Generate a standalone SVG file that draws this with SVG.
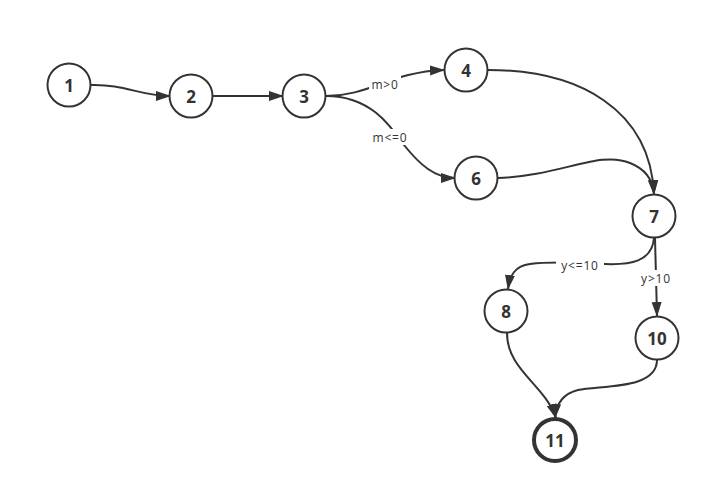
<svg xmlns="http://www.w3.org/2000/svg" width="711" height="494" viewBox="0 0 711 494">
<style>
.node circle{fill:#fff;stroke:#333;stroke-width:2}
.node text{font-family:"Open Sans","Liberation Sans",sans-serif;font-weight:bold;font-size:17px;fill:#333;text-anchor:middle;dominant-baseline:central}
.edge{fill:none;stroke:#333;stroke-width:2;marker-end:url(#arr)}
.lbl{font-family:"Open Sans","Liberation Sans",sans-serif;font-size:12px;letter-spacing:0.8px;fill:#333;text-anchor:middle;dominant-baseline:central}
.lblbg{fill:#fff}
</style>
<defs>
<marker id="arr" markerUnits="userSpaceOnUse" markerWidth="16" markerHeight="12" refX="14" refY="6" orient="auto" viewBox="0 0 16 12">
<path d="M0,1 L15,6 L0,11 Z" fill="#333"/>
</marker>
</defs>
<rect width="711" height="494" fill="#fff"/>
<g id="connectors">
<path class="edge" d="M91,85 C125,84 140,96 170,96"/>
<path class="edge" d="M213,96 L283,96"/>
<path class="edge" d="M326,96 C370,96 390,72 444,70"/>
<path class="edge" d="M326,96 C370,96 390,125 404,145 C420,165 435,178 455,178"/>
<path class="edge" d="M488,70 C580,70 650,110 654,194"/>
<path class="edge" d="M498,178 C560,176 600,150 630,163 C648,170 653,182 654,194"/>
<path class="edge" d="M654,238 C652,262 630,265 605,264 C570,262 545,262 530,264 C515,266 510,275 508,289"/>
<path class="edge" d="M655,238 L657,316"/>
<path class="edge" d="M507,333 C507,370 545,385 556,418"/>
<path class="edge" d="M657,360 C657,390 600,385 578,390 C562,394 556,405 555,418"/>
<rect class="lblbg" x="369" y="76" width="32" height="16"/>
<text class="lbl" x="385" y="84">m&gt;0</text>
<rect class="lblbg" x="368" y="129" width="44" height="16"/>
<text class="lbl" x="390" y="137">m&lt;=0</text>
<rect class="lblbg" x="556" y="257" width="48" height="16"/>
<text class="lbl" x="580" y="265">y&lt;=10</text>
<rect class="lblbg" x="637" y="270" width="40" height="16"/>
<text class="lbl" x="656" y="278">y&gt;10</text>
</g>
<g id="n1" class="node"><circle cx="69" cy="85" r="21.5"/><text x="69" y="85">1</text></g>
<g id="n2" class="node"><circle cx="191" cy="96" r="21.5"/><text x="191" y="96">2</text></g>
<g id="n3" class="node"><circle cx="304" cy="96" r="21.5"/><text x="304" y="96">3</text></g>
<g id="n4" class="node"><circle cx="466" cy="70" r="21.5"/><text x="466" y="70">4</text></g>
<g id="n6" class="node"><circle cx="476" cy="178" r="21.5"/><text x="476" y="178">6</text></g>
<g id="n7" class="node"><circle cx="654" cy="216" r="21.5"/><text x="654" y="216">7</text></g>
<g id="n8" class="node"><circle cx="506" cy="311" r="21.5"/><text x="506" y="311">8</text></g>
<g id="n10" class="node"><circle cx="657" cy="338" r="21.5"/><text x="657" y="338">10</text></g>
<g id="n11" class="node"><circle cx="555" cy="440" r="21" style="stroke-width:4"/><text x="555" y="440">11</text></g>
</svg>
